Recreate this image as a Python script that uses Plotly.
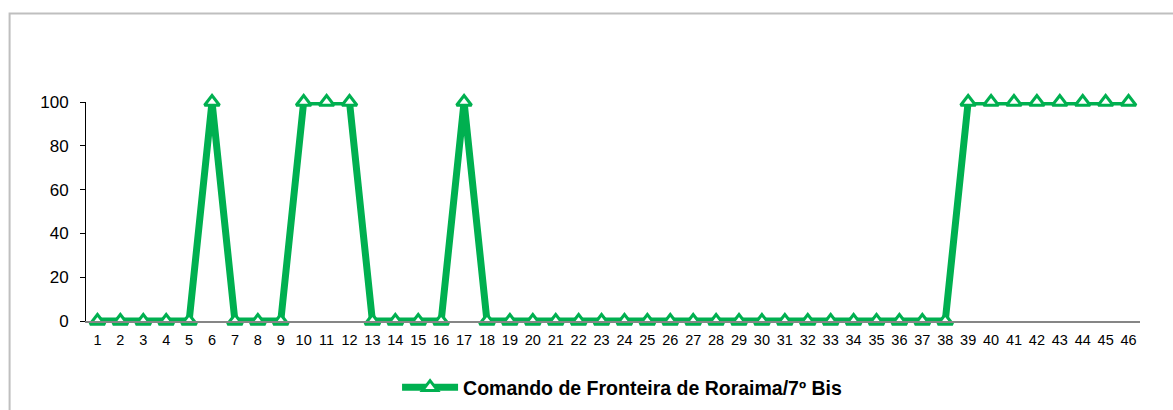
import plotly.graph_objects as go

# Category labels 1..46 and the series values
categories = [str(i) for i in range(1, 47)]
values = [0, 0, 0, 0, 0, 100, 0, 0, 0, 100, 100, 100, 0, 0, 0, 0, 100,
          0, 0, 0, 0, 0, 0, 0, 0, 0, 0, 0, 0, 0, 0, 0, 0, 0, 0, 0, 0, 0,
          100, 100, 100, 100, 100, 100, 100, 100]
series_name = "Comando de Fronteira de Roraima/7º Bis"
y_ticks = [0, 20, 40, 60, 80, 100]

GREEN = "#00B050"

fig = go.Figure()
fig.add_trace(go.Scatter(
    x=categories,
    y=values,
    mode="lines+markers",
    name=series_name,
    line=dict(color=GREEN, width=7),
    marker=dict(symbol="triangle-up", size=13, color="white",
                line=dict(color=GREEN, width=3)),
    cliponaxis=False,
))

# Outer chart frame (right and bottom edges fall outside the page)
fig.add_shape(type="rect", xref="paper", yref="paper",
              x0=-0.0725, y0=-0.46, x1=1.08, y1=1.404,
              line=dict(color="#BFBFBF", width=2), fillcolor="rgba(0,0,0,0)",
              layer="below")

fig.update_layout(
    width=1173, height=410,
    margin=dict(l=86, r=33, t=102, b=89, autoexpand=False),
    paper_bgcolor="white", plot_bgcolor="white",
    font=dict(family="Liberation Sans, Arial, sans-serif", color="black"),
    showlegend=True,
    legend=dict(orientation="h", xref="container", yref="container",
                x=0.3385, xanchor="left", y=0.055, yanchor="middle",
                font=dict(size=19.5, family="Liberation Sans, Arial, sans-serif",
                          weight="bold"),
                itemwidth=56, bgcolor="rgba(0,0,0,0)"),
    xaxis=dict(
        type="category", range=[-0.5, 45.5],
        showgrid=False, zeroline=False,
        showline=True, linecolor="#868686", linewidth=1.5,
        ticks="", tickfont=dict(size=14.5),
        ticklabelstandoff=5,
        fixedrange=True,
    ),
    yaxis=dict(
        range=[0, 100], tickvals=y_ticks,
        showgrid=False, zeroline=False,
        showline=True, linecolor="black", linewidth=1,
        ticks="outside", ticklen=5, tickcolor="black", tickwidth=1,
        tickfont=dict(size=17),
        ticklabelstandoff=8,
        fixedrange=True,
    ),
)

fig.write_html("out.html")
